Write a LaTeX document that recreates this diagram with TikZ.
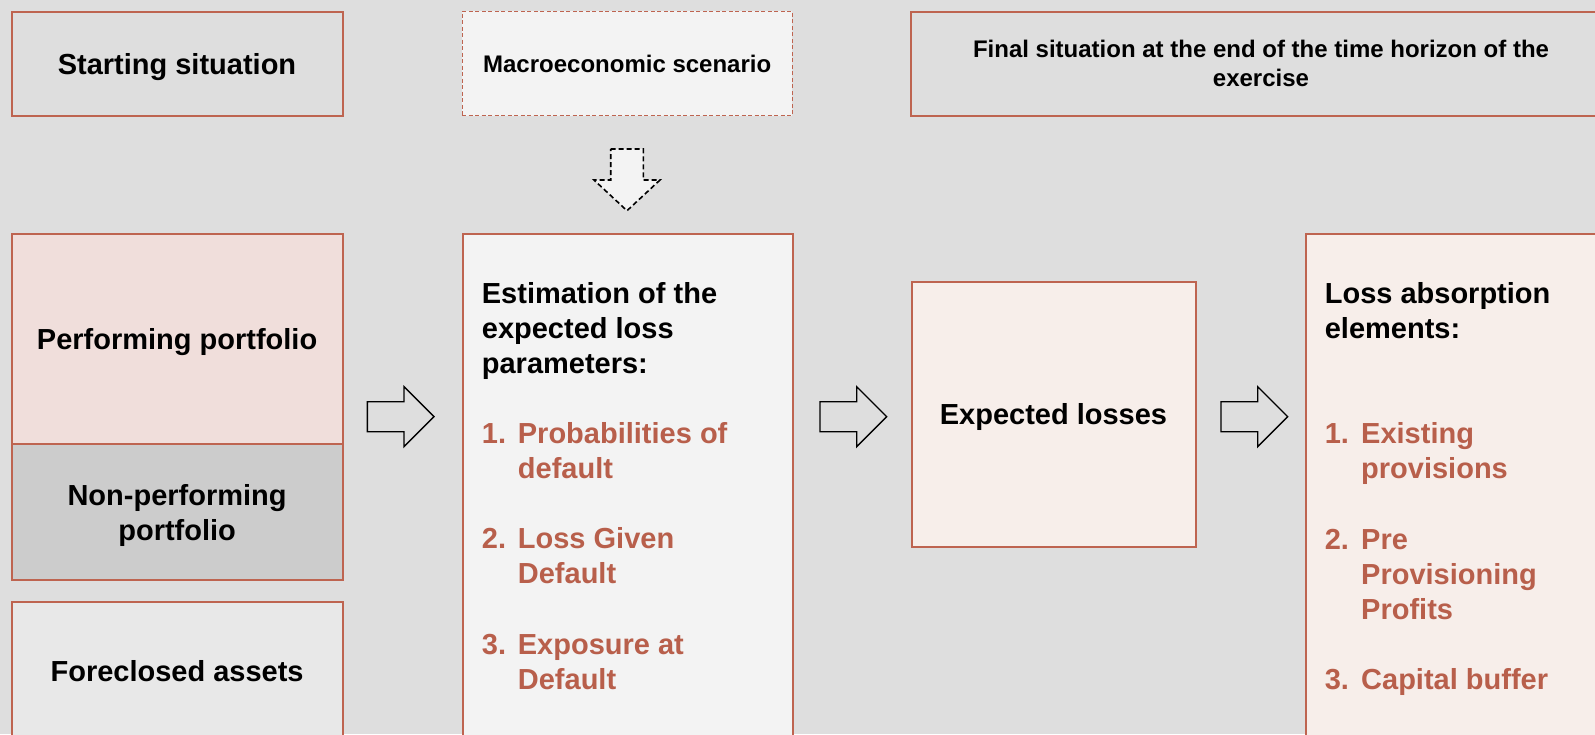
\documentclass[tikz,border=0pt]{standalone}
\usepackage{fontspec}
\setmainfont{Liberation Sans}
\usetikzlibrary{calc}
\definecolor{bg}{HTML}{DEDEDE}
\definecolor{edge}{HTML}{BE6450}
\definecolor{redtxt}{HTML}{B85F4B}
\definecolor{perffill}{HTML}{F0DEDB}
\definecolor{npfill}{HTML}{CCCCCC}
\definecolor{forefill}{HTML}{E8E8E8}
\definecolor{lightfill}{HTML}{F3F3F3}
\definecolor{pinkfill}{HTML}{F7EEEA}
\begin{document}
\begin{tikzpicture}[x=1pt,y=-1pt,
  box/.style={draw=edge, line width=2pt, inner sep=0pt, anchor=north west,
    align=center, text=black, text depth=0pt, font=\bfseries\fontsize{29}{35}\selectfont},
  smallbox/.style={box, font=\bfseries\fontsize{24}{29}\selectfont},
  listtext/.style={inner sep=0pt, anchor=north west, align=left, text=black,
    font=\bfseries\fontsize{29}{35}\selectfont},
  blockarrow/.style={draw=black, line width=1.4pt, fill=bg, line join=miter},
  barrow/.pic={\draw[pic actions] (0,-15) -- (36.7,-15) -- (36.7,-30) -- (66.7,0)
      -- (36.7,30) -- (36.7,15) -- (0,15) -- cycle;}
]
\useasboundingbox (0,0) rectangle (1595,734);
\fill[bg] (0,0) rectangle (1595,734);
\begin{scope}
\clip (0,0) rectangle (1595,734);
% top row
\node[box, fill=bg, minimum width=331pt, minimum height=104.5pt] (start) at (10.5,10.5) {Starting situation};
\node[smallbox, fill=lightfill, dashed, dash pattern=on 4pt off 2.5pt, line width=1.4pt,
  minimum width=330pt, minimum height=104.5pt] (macro) at (461.5,10.5) {Macroeconomic scenario};
\node[smallbox, fill=bg, minimum width=700pt, minimum height=104.5pt] (final) at (910,10.5)
  {Final situation at the end of the time horizon of the\\exercise};
% dashed down arrow
\coordinate (dn) at (627,149);
\draw[blockarrow, fill=lightfill, dashed, dash pattern=on 5pt off 3pt, line width=1.6pt, shift={(dn)}]
  (-16.3,0) -- (16.3,0) -- (16.3,31) -- (33,31) -- (0,61.7) -- (-33,31) -- (-16.3,31) -- cycle;
% left column
\node[box, fill=perffill, minimum width=330.8pt, minimum height=210pt] (perf) at (10.7,232.7) {Performing portfolio};
\node[box, fill=npfill, minimum width=330.8pt, minimum height=136.6pt] (np) at (10.7,442.7) {Non-performing\\portfolio};
\node[box, fill=forefill, minimum width=330.8pt, minimum height=137.8pt] (fore) at (10.7,600.7) {Foreclosed assets};
% estimation box
\node[box, fill=lightfill, minimum width=330.6pt, minimum height=540pt] (est) at (461.7,232.7) {};
\node[listtext] (esttxt) at (481.7,282.2) {Estimation of the\\expected loss\\parameters:\\[35pt]
\textcolor{redtxt}{\makebox[36pt][l]{1.}Probabilities of}\\
\textcolor{redtxt}{\hspace*{36pt}default}\\[35.5pt]
\textcolor{redtxt}{\makebox[36pt][l]{2.}Loss Given}\\
\textcolor{redtxt}{\hspace*{36pt}Default}\\[35.5pt]
\textcolor{redtxt}{\makebox[36pt][l]{3.}Exposure at}\\
\textcolor{redtxt}{\hspace*{36pt}Default}};
% expected losses
\node[box, fill=pinkfill, minimum width=284pt, minimum height=264.7pt] (exp) at (910.5,281) {Expected losses};
% loss absorption box
\node[box, fill=pinkfill, minimum width=320pt, minimum height=540pt] (loss) at (1305,232.7) {};
\node[listtext] (losstxt) at (1324.6,282.2) {Loss absorption\\elements:\\[70.5pt]
\textcolor{redtxt}{\makebox[36.4pt][l]{1.}Existing}\\
\textcolor{redtxt}{\hspace*{36.4pt}provisions}\\[35.5pt]
\textcolor{redtxt}{\makebox[36.4pt][l]{2.}Pre}\\
\textcolor{redtxt}{\hspace*{36.4pt}Provisioning}\\
\textcolor{redtxt}{\hspace*{36.4pt}Profits}\\[35.5pt]
\textcolor{redtxt}{\makebox[36.4pt][l]{3.}Capital buffer}};
% block arrows
\coordinate (a1) at (367.3,416.7);
\coordinate (a2) at (820,416.7);
\coordinate (a3) at (1221,416.7);
\pic[blockarrow] at (a1) {barrow};
\pic[blockarrow] at (a2) {barrow};
\pic[blockarrow] at (a3) {barrow};
\end{scope}
\end{tikzpicture}
\end{document}
